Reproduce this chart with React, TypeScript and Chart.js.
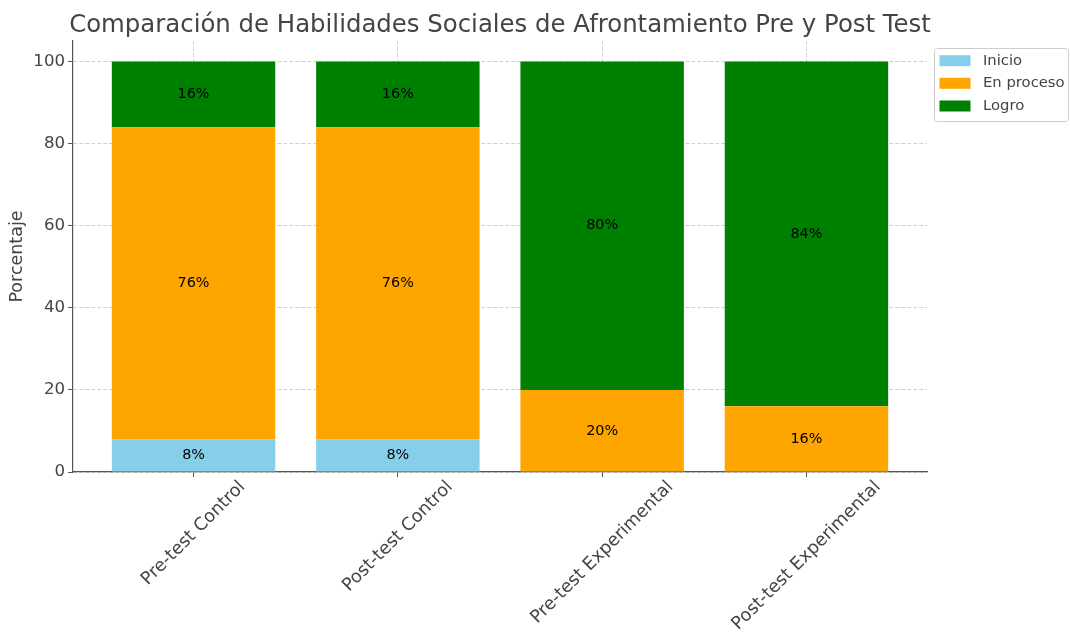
import React, { useEffect, useRef } from 'react';
import { Chart, registerables } from 'chart.js';

Chart.register(...registerables);

const categories = ['Pre-test Control', 'Post-test Control', 'Pre-test Experimental', 'Post-test Experimental'];
const inicio = [8, 8, 0, 0];
const enProceso = [76, 76, 20, 16];
const logro = [16, 16, 80, 84];
const seriesNames = ['Inicio', 'En proceso', 'Logro'];
const seriesColors = ['#87CEEB', '#FFA500', '#008000'];
const yTicks = [0, 20, 40, 60, 80, 100];
const titleText = 'Comparación de Habilidades Sociales de Afrontamiento Pre y Post Test';
const yLabel = 'Porcentaje';

const FONT = '"DejaVu Sans", "Liberation Sans", sans-serif';
const TEXT = '#444444';
const SPINE = '#555555';
const GRID = 'rgba(176,176,176,0.6)';

const W = 1070;
const H = 635;

export default function App() {
  const ref = useRef<HTMLCanvasElement | null>(null);

  useEffect(() => {
    document.body.style.margin = '0';
    const canvas = ref.current;
    if (!canvas) return;
    const series = [inicio, enProceso, logro];

    const overlay = {
      id: 'overlay',
      afterDraw(chart: any) {
        const ctx = chart.ctx as CanvasRenderingContext2D;
        const area = chart.chartArea;
        const xs = chart.scales.x;
        const ys = chart.scales.y;
        ctx.save();
        // Title
        ctx.font = `24.4px ${FONT}`;
        ctx.fillStyle = TEXT;
        ctx.textAlign = 'center';
        ctx.textBaseline = 'alphabetic';
        ctx.fillText(titleText, (area.left + area.right) / 2, 31.5);

        // Data labels
        ctx.font = `14.4px ${FONT}`;
        ctx.fillStyle = '#000000';
        ctx.textAlign = 'center';
        ctx.textBaseline = 'middle';
        categories.forEach((_, i) => {
          let base = 0;
          series.forEach((s) => {
            const v = s[i];
            if (v > 0) {
              const y = ys.getPixelForValue(base + v / 2);
              const x = xs.getPixelForValue(i);
              ctx.fillText(`${v}%`, x, y);
            }
            base += v;
          });
        });

        // X tick labels, rotated 45deg, centered on tick
        const fs = 17.8;
        ctx.font = `${fs}px ${FONT}`;
        ctx.fillStyle = TEXT;
        categories.forEach((c, i) => {
          const x = xs.getPixelForValue(i);
          const w = ctx.measureText(c).width;
          const half = ((w + fs) * Math.SQRT1_2) / 2;
          ctx.save();
          ctx.translate(x, area.bottom + 6 + half);
          ctx.rotate(-Math.PI / 4);
          ctx.textAlign = 'center';
          ctx.textBaseline = 'middle';
          ctx.fillText(c, 0, 0);
          ctx.restore();
        });

        // Legend
        const lx = 934.5;
        const ly = 48.5;
        const lw = 134;
        const lh = 73;
        ctx.beginPath();
        (ctx as any).roundRect(lx, ly, lw, lh, 3);
        ctx.fillStyle = 'rgba(255,255,255,0.8)';
        ctx.fill();
        ctx.strokeStyle = '#cccccc';
        ctx.lineWidth = 1;
        ctx.stroke();
        const rows = [60.7, 83.3, 106];
        ctx.font = `14.8px ${FONT}`;
        ctx.textAlign = 'left';
        ctx.textBaseline = 'middle';
        seriesNames.forEach((n, k) => {
          ctx.fillStyle = seriesColors[k];
          ctx.fillRect(939.5, rows[k] - 5.5, 31, 11);
          ctx.fillStyle = TEXT;
          ctx.fillText(n, 983, rows[k]);
        });
        ctx.restore();
      },
    };

    const chart = new Chart(canvas, {
      type: 'bar',
      data: {
        datasets: series.map((s, k) => ({
          label: seriesNames[k],
          data: s.map((v, i) => ({ x: i, y: v })),
          backgroundColor: seriesColors[k],
          borderWidth: 0,
          categoryPercentage: 1,
          barPercentage: 0.8,
        })),
      },
      options: {
        responsive: false,
        animation: false,
        devicePixelRatio: 1,
        layout: { padding: { top: 41, right: 143, left: 0, bottom: 0 } },
        plugins: {
          legend: { display: false },
          tooltip: { enabled: false },
          title: { display: false },
        },
        scales: {
          x: {
            type: 'linear',
            stacked: true,
            offset: false,
            min: -0.59,
            max: 3.59,
            afterBuildTicks: (s: any) => {
              s.ticks = categories.map((_, i) => ({ value: i }));
            },
            afterFit: (s: any) => {
              s.height = H - 472;
            },
            ticks: { display: false },
            grid: {
              offset: false,
              color: GRID,
              lineWidth: 1,
              tickColor: SPINE,
              tickLength: 5,
              drawTicks: true,
            },
            border: { color: SPINE, width: 1.2, dash: [4, 2] },
            z: 1,
          },
          y: {
            type: 'linear',
            stacked: true,
            min: 0,
            max: 105,
            afterBuildTicks: (s: any) => {
              s.ticks = yTicks.map((v) => ({ value: v }));
            },
            afterFit: (s: any) => {
              s.width = 73;
            },
            ticks: {
              color: TEXT,
              font: { family: FONT, size: 16.6 },
              padding: 3,
            },
            grid: {
              color: GRID,
              lineWidth: 1,
              tickColor: SPINE,
              tickLength: 5,
              drawTicks: true,
            },
            border: { color: SPINE, width: 1.2, dash: [4, 2] },
            title: {
              display: true,
              text: yLabel,
              color: TEXT,
              font: { family: FONT, size: 17.5 },
              padding: { top: 7, bottom: 0 },
            },
            z: 1,
          },
        },
      },
      plugins: [overlay],
    } as any);

    return () => {
      chart.destroy();
    };
  }, []);

  return (
    <div style={{ width: W, height: H }}>
      <canvas ref={ref} width={W} height={H} style={{ display: 'block', width: W, height: H }} />
    </div>
  );
}
